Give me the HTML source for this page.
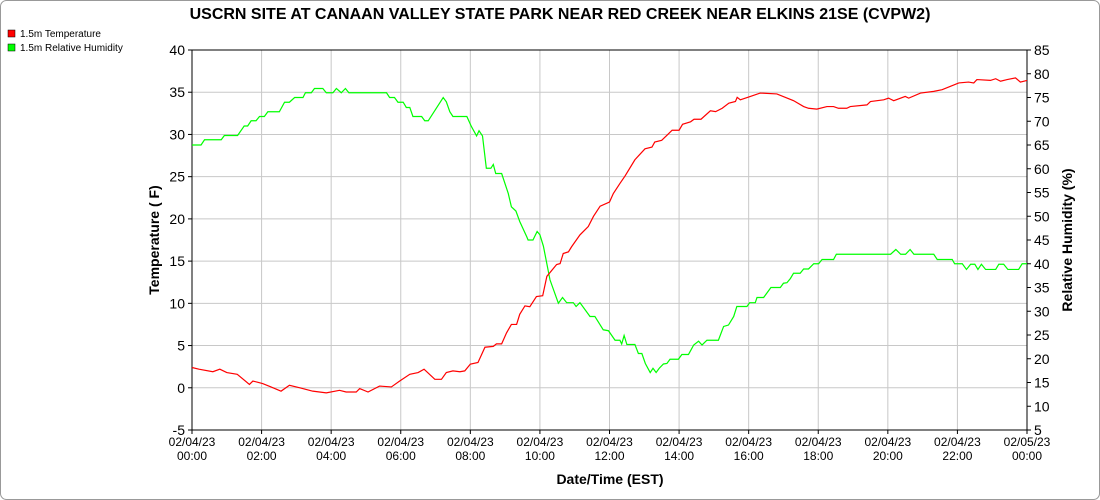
<!DOCTYPE html>
<html><head><meta charset="utf-8"><style>
body{margin:0;background:#fff;}
svg{display:block;font-family:"Liberation Sans",sans-serif;}
</style></head><body>
<svg id="chart" width="1100" height="500">
<rect x="0.5" y="0.5" width="1099" height="499" rx="6" fill="#fff" stroke="#999"/>
<text x="560" y="19" text-anchor="middle" font-size="16" font-weight="bold">USCRN SITE AT CANAAN VALLEY STATE PARK NEAR RED CREEK NEAR ELKINS 21SE (CVPW2)</text>
<g>
<g><rect x="8" y="30" width="7" height="7" fill="#f00" stroke="#000" stroke-width="0.5"/><text x="20" y="37" font-size="10">1.5m Temperature</text></g>
<g><rect x="8" y="44" width="7" height="7" fill="#0f0" stroke="#000" stroke-width="0.5"/><text x="20" y="51" font-size="10">1.5m Relative Humidity</text></g>
</g>
<g id="grid"></g>
<g id="axes"></g>
<g id="series"></g>
<text transform="translate(159,240) rotate(-90)" text-anchor="middle" font-size="14" font-weight="bold">Temperature ( F)</text>
<text transform="translate(1072,240) rotate(-90)" text-anchor="middle" font-size="14" font-weight="bold">Relative Humidity (%)</text>
<text x="610" y="484" text-anchor="middle" font-size="14" font-weight="bold">Date/Time (EST)</text>
</svg>
<script>
const xTickLabels=[["02/04/23","00:00"],["02/04/23","02:00"],["02/04/23","04:00"],["02/04/23","06:00"],["02/04/23","08:00"],["02/04/23","10:00"],["02/04/23","12:00"],["02/04/23","14:00"],["02/04/23","16:00"],["02/04/23","18:00"],["02/04/23","20:00"],["02/04/23","22:00"],["02/05/23","00:00"]];
const leftTicks=[-5,0,5,10,15,20,25,30,35,40];
const rightTicks=[5,10,15,20,25,30,35,40,45,50,55,60,65,70,75,80,85];
const tempHours=[0,0.2,0.6,0.8,1.0,1.3,1.65,1.75,2.03,2.27,2.56,2.8,3.1,3.47,3.86,4.24,4.43,4.72,4.82,5.06,5.39,5.73,5.97,6.26,6.5,6.67,6.98,7.17,7.31,7.5,7.7,7.84,8.0,8.22,8.42,8.66,8.75,8.9,9.04,9.18,9.33,9.42,9.57,9.71,9.9,10.08,10.2,10.48,10.58,10.67,10.82,10.91,11.15,11.39,11.54,11.73,12.0,12.11,12.3,12.45,12.73,13.02,13.22,13.3,13.5,13.65,13.8,14.0,14.1,14.33,14.43,14.63,14.9,15.05,15.24,15.43,15.62,15.67,15.76,16.05,16.33,16.81,17.29,17.58,17.72,17.96,18.25,18.44,18.58,18.82,18.92,19.4,19.5,19.88,20.02,20.17,20.5,20.6,20.94,21.32,21.56,21.8,22.04,22.32,22.47,22.56,22.95,23.1,23.24,23.43,23.67,23.81,24.0];
const tempValues=[2.4,2.2,1.9,2.2,1.8,1.6,0.4,0.8,0.5,0.1,-0.4,0.3,0,-0.4,-0.6,-0.3,-0.5,-0.5,-0.1,-0.5,0.2,0.1,0.8,1.6,1.8,2.2,1.0,1.0,1.8,2.0,1.9,2.0,2.8,3.0,4.8,4.9,5.2,5.2,6.5,7.5,7.5,8.7,9.7,9.6,10.8,10.9,13.2,14.6,14.7,15.9,16.1,16.7,18.1,19.1,20.3,21.5,22.0,23.0,24.2,25.1,27.0,28.3,28.5,29.1,29.3,29.9,30.5,30.5,31.2,31.5,31.8,31.8,32.8,32.7,33.1,33.7,33.9,34.4,34.1,34.5,34.9,34.8,34.0,33.3,33.1,33.0,33.3,33.3,33.1,33.1,33.3,33.5,33.9,34.1,34.3,34.0,34.5,34.3,34.9,35.1,35.3,35.7,36.1,36.2,36.1,36.5,36.4,36.6,36.3,36.5,36.7,36.2,36.4];
const rhHours=[0,0.26,0.36,0.84,0.93,1.31,1.5,1.6,1.7,1.84,1.94,2.08,2.18,2.51,2.66,2.8,2.95,3.19,3.26,3.43,3.52,3.76,3.86,4.05,4.15,4.29,4.41,4.51,5.59,5.68,5.82,5.92,6.07,6.16,6.26,6.35,6.6,6.69,6.79,7.22,7.31,7.41,7.5,7.9,8.03,8.18,8.25,8.35,8.46,8.59,8.66,8.73,8.9,9.09,9.18,9.31,9.42,9.62,9.66,9.8,9.92,10.0,10.1,10.29,10.53,10.65,10.77,10.96,11.04,11.15,11.44,11.58,11.82,11.97,12.16,12.3,12.35,12.42,12.5,12.73,12.83,12.93,13.03,13.17,13.25,13.34,13.43,13.55,13.65,13.74,13.98,14.08,14.27,14.42,14.56,14.66,14.8,15.13,15.28,15.42,15.57,15.66,15.95,16.03,16.19,16.24,16.43,16.53,16.64,16.91,17.0,17.1,17.2,17.29,17.48,17.58,17.72,17.87,18.01,18.11,18.44,18.52,20.08,20.23,20.37,20.51,20.64,20.75,21.32,21.42,21.85,21.92,22.14,22.26,22.38,22.5,22.59,22.69,22.81,23.1,23.19,23.33,23.45,23.76,23.86,24.0];
const rhValues=[65.0,65.0,66.1,66.1,67.0,67.0,69.0,69.0,70.1,70.1,71.0,71.0,72.0,72.0,74.0,74.0,75.0,75.0,76.0,76.0,76.9,76.9,76.0,76.0,76.9,76.0,76.9,76.0,76.0,75.0,75.0,74.0,74.0,72.9,72.9,71.0,71.0,70.1,70.1,75.0,74.1,72.0,71.0,71.0,68.9,66.9,68.0,66.9,60.1,60.1,60.9,59.0,59.0,54.8,52.0,51.1,48.9,45.7,45.0,45.0,46.8,46.1,43.7,36.6,31.7,32.9,31.8,31.8,31.0,31.8,28.9,28.9,26.1,25.9,23.9,23.9,23.1,24.9,23.0,23.0,21.1,21.1,19.0,17.1,18.0,17.1,18.0,18.9,19.0,19.9,19.9,20.9,20.9,22.9,23.7,22.9,23.9,23.9,26.8,27.1,28.9,31.0,31.0,31.8,31.8,32.9,32.9,33.9,35.0,35.0,35.9,36.0,36.9,38.0,38.0,38.9,38.9,40.0,40.0,40.9,40.9,42.0,42.0,43.0,42.0,42.0,43.0,42.0,42.0,40.9,40.9,40.0,40.0,38.8,39.9,39.9,38.8,39.9,38.8,38.8,39.9,39.9,38.8,38.8,40.0,40.0];

const L=192,R=1027,T=50,B=430;
const x=h=>L+(R-L)*h/24;
const yL=v=>B-(B-T)*(v+5)/45;
const yR=v=>B-(B-T)*(v-5)/80;
const NS="http://www.w3.org/2000/svg";
function mk(tag,attrs,parent){const e=document.createElementNS(NS,tag);for(const k in attrs)e.setAttribute(k,attrs[k]);parent.appendChild(e);return e;}
const grid=document.getElementById('grid'),axes=document.getElementById('axes'),series=document.getElementById('series');
xTickLabels.forEach((lab,i)=>{
  const xx=x(i*2);
  if(i>0&&i<xTickLabels.length-1){const g=mk('line',{x1:xx,x2:xx,y1:T,y2:B,stroke:'#c8c8c8','stroke-width':1},grid);
  
  }
  const tk=mk('line',{x1:xx,x2:xx,y1:B,y2:B+4,stroke:'#000'},axes);
  
  
  const t=mk('text',{x:xx,y:B+16,'text-anchor':'middle','font-size':12},axes);
  
  
  mk('tspan',{x:xx,dy:0},t).textContent=lab[0];
  mk('tspan',{x:xx,dy:14},t).textContent=lab[1];
});
leftTicks.forEach(v=>{
  const yy=yL(v);
  if(v>-5&&v<40){const g=mk('line',{x1:L,x2:R,y1:yy,y2:yy,stroke:'#c8c8c8'},grid);
  
  }
  mk('line',{x1:L-4,x2:L,y1:yy,y2:yy,stroke:'#000'},axes);
  const t=mk('text',{x:L-7,y:yy+5,'text-anchor':'end','font-size':14},axes);
  
  
  t.textContent=v;
});
rightTicks.forEach(v=>{
  const yy=yR(v);
  mk('line',{x1:R,x2:R+4,y1:yy,y2:yy,stroke:'#000'},axes);
  const t=mk('text',{x:R+7,y:yy+5,'text-anchor':'start','font-size':14},axes);
  
  
  t.textContent=v;
});
const ax=mk('path',{d:`M${L},${T}V${B}H${R}V${T}H${L}`,fill:'none',stroke:'#000','stroke-width':1},axes);


const rh=mk('polyline',{points:rhHours.map((h,i)=>x(h)+','+yR(rhValues[i])).join(' '),fill:'none',stroke:'#00ff00','stroke-width':1.2},series);


const tp=mk('polyline',{points:tempHours.map((h,i)=>x(h)+','+yL(tempValues[i])).join(' '),fill:'none',stroke:'#ff0000','stroke-width':1.2},series);


</script>
</body></html>
